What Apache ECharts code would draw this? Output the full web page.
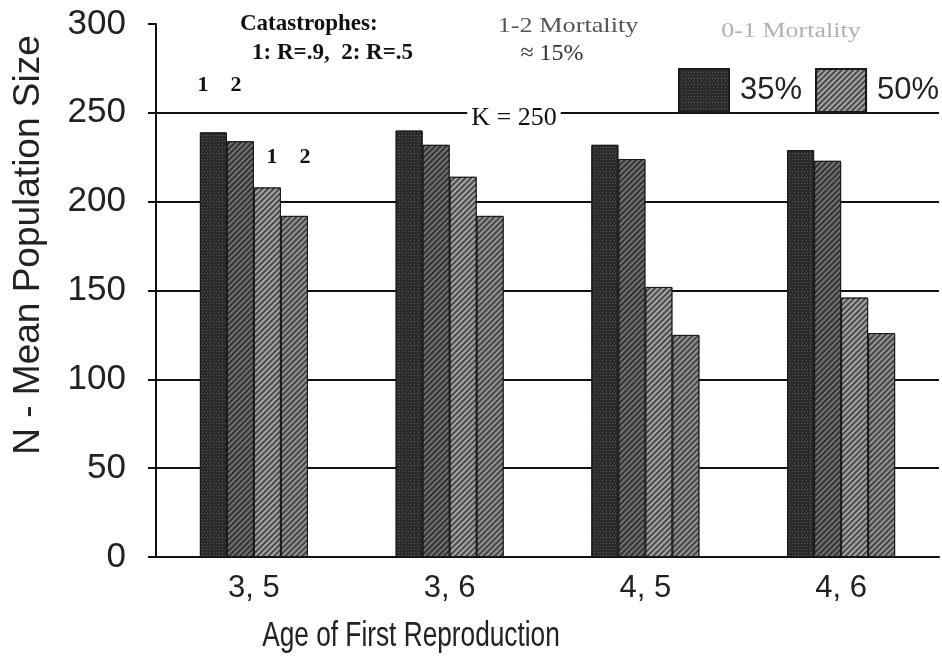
<!DOCTYPE html>
<html>
<head>
<meta charset="utf-8">
<script src="https://cdn.jsdelivr.net/npm/echarts@6/dist/echarts.min.js"></script>
<style>
  html, body { margin: 0; padding: 0; background: #fff; }
  #chart { width: 942px; height: 657px; }
</style>
</head>
<body>
<div id="chart"></div>
<script>
// age of first reproduction groups
const categories = ['3, 5', '3, 6', '4, 5', '4, 6']
// 0-1 mortality 35%, catastrophe 1 (R=.9) and 2 (R=.5)
const m35r9 = [239, 240, 232, 229]
const m35r5 = [234, 232, 224, 223]
// 0-1 mortality 50%
const m50r9 = [208, 214, 152, 146]
const m50r5 = [192, 192, 125, 126]
const yTicks = [0, 50, 100, 150, 200, 250, 300]

const chart = echarts.init(document.getElementById('chart'))

const serif = '"Liberation Serif", "Times New Roman", serif'
const sans = '"Liberation Sans", Arial, sans-serif'

// stipple / hatch fills like the scanned print
const dots = (c) => ({
  symbol: 'rect', symbolSize: 1, color: c,
  dashArrayX: [[1, 2], [0, 1.5, 1, 0.5]], dashArrayY: [1, 1.2]
})
const hatch = (c, w, g) => ({
  symbol: 'rect', symbolSize: 1, color: c,
  dashArrayX: [1, 0], dashArrayY: [w, g], rotation: -Math.PI / 4
})

const bar = (name, data, color, decal) => ({
  name: name,
  type: 'bar',
  data: data,
  barWidth: 27,
  barGap: '0%',
  itemStyle: { color: color, decal: decal, borderColor: '#1a1a1a', borderWidth: 1 }
})

const txt = (text, x, y, font, fill, extra) => ({
  type: 'text', x: x, y: y, ...(extra || {}),
  style: { text: text, font: font, fill: fill, align: 'center', verticalAlign: 'middle' }
})

chart.setOption({
  animation: false,
  backgroundColor: '#fff',
  grid: { left: 156, right: 3, top: 24, bottom: 100, containLabel: false },
  legend: {
    data: ['35%', '50%'],
    left: 678,
    top: 68,
    padding: 0,
    icon: 'rect',
    itemWidth: 50,
    itemHeight: 43,
    itemGap: 13,
    selectedMode: false,
    textStyle: { fontSize: 31, fontFamily: sans, color: '#222', padding: [0, 0, 0, 6] }
  },
  xAxis: {
    type: 'category',
    data: categories,
    axisLine: { lineStyle: { color: '#111', width: 2 } },
    axisTick: { show: false },
    axisLabel: { fontSize: 31, fontFamily: sans, color: '#222', margin: 16 }
  },
  yAxis: {
    type: 'value',
    min: 0,
    max: 300,
    interval: 50,
    axisLine: { show: true, lineStyle: { color: '#111', width: 2 } },
    axisTick: { show: true, length: 8, lineStyle: { color: '#111', width: 2 } },
    axisLabel: {
      fontSize: 35, fontFamily: sans, color: '#222', margin: 30,
      formatter: (v) => (yTicks.includes(v) ? String(v) : '')
    },
    splitLine: { show: true, showMaxLine: false, lineStyle: { color: '#111', width: 2 } }
  },
  series: [
    bar('35%', m35r9, '#2b2b2b', dots('rgba(255,255,255,0.25)')),
    bar('35%', m35r5, '#333333', hatch('rgba(255,255,255,0.3)', 1.2, 1.8)),
    bar('50%', m50r9, '#4a4a4a', hatch('rgba(255,255,255,0.5)', 1.4, 1.6)),
    bar('50%', m50r5, '#454545', hatch('rgba(255,255,255,0.42)', 1.3, 1.7))
  ],
  graphic: [
    txt('N - Mean Population Size', 29, 245, '37px ' + sans, '#222', { rotation: Math.PI / 2 }),
    txt('Age of First Reproduction', 411, 636, '35px ' + sans, '#222', { scaleX: 0.75 }),
    { type: 'text', x: 240, y: 24,
      style: { text: 'Catastrophes:', font: 'bold 23px ' + serif, fill: '#111', align: 'left', verticalAlign: 'middle' } },
    { type: 'text', x: 252, y: 53,
      style: { text: '1: R=.9,  2: R=.5', font: 'bold 23px ' + serif, fill: '#111', align: 'left', verticalAlign: 'middle' } },
    txt('1-2 Mortality', 568, 26, '21px ' + serif, '#555', { scaleX: 1.25 }),
    txt('≈ 15%', 552, 54, '24px ' + serif, '#333'),
    txt('0-1 Mortality', 791, 32, '20px ' + serif, '#b0b0b0', { scaleX: 1.3 }),
    { type: 'text', x: 514, y: 118, z: 100,
      style: { text: 'K = 250', font: '26px ' + serif, fill: '#111', align: 'center', verticalAlign: 'middle', backgroundColor: '#fff', padding: [0, 4] } },
    txt('1', 203, 85, 'bold 22px ' + serif, '#111'),
    txt('2', 236, 85, 'bold 22px ' + serif, '#111'),
    txt('1', 272, 157, 'bold 22px ' + serif, '#111'),
    txt('2', 305, 157, 'bold 22px ' + serif, '#111')
  ]
})

window.addEventListener('resize', () => {
  if (chart) chart.resize()
})
</script>
</body>
</html>
